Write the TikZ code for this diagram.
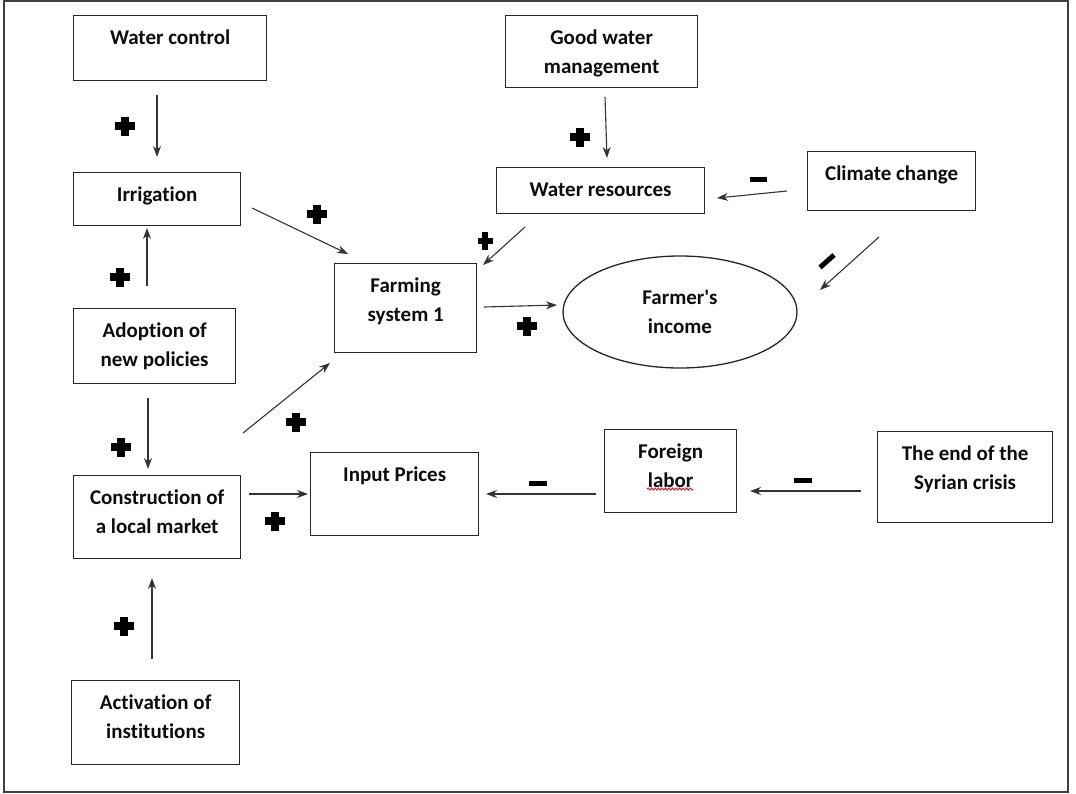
\documentclass[tikz,border=0pt]{standalone}
\usepackage{fontspec}
\setmainfont{Carlito}[Ligatures={TeXOff,NoCommon}]
\usetikzlibrary{arrows.meta,calc,decorations.pathmorphing,shapes.geometric}

% box content: fixed size, text hung from the top with the first baseline 28.5pt down
\newcommand{\boxlines}[3]{\begin{minipage}[t][#2][t]{#1}\centering\rule{0pt}{28.5pt}#3\end{minipage}}

\tikzset{
  x=1pt, y=-1pt,
  lbl/.style={font=\bfseries\fontsize{21}{29.5}\selectfont, text=black!95},
  box/.style={lbl, draw=black!85, line width=1.3pt, inner sep=0pt, anchor=north west},
  arr/.style={-{Stealth[length=11pt,width=8pt]}, line width=1.1pt, draw=black!80},
  plusmark/.pic={\fill[black] (-10,-3.7) rectangle (10,3.7);
                 \fill[black] (-3.7,-9.5) rectangle (3.7,9.5);},
  smallplus/.pic={\fill[black] (-7.5,-3) rectangle (7.5,3);
                  \fill[black] (-3,-9) rectangle (3,9);},
  minusmark/.style={line width=5pt, draw=black},
}

\begin{document}
\begin{tikzpicture}
\useasboundingbox (0,0) rectangle (1076,793);
\fill[white] (0,0) rectangle (1076,793);
\draw[line width=1.2pt, black!75] (4,1) rectangle (1068,792);

% boxes
\node[box] (wc)  at (73,15)  {\boxlines{193pt}{65pt}{Water control}};
\node[box] (irr) at (73,172) {\boxlines{167pt}{53pt}{Irrigation}};
\node[box] (adp) at (73,308) {\boxlines{162pt}{75pt}{Adoption of\\new policies}};
\node[box] (lm)  at (73,475) {\boxlines{167pt}{83pt}{Construction of\\a local market}};
\node[box] (act) at (71,680) {\boxlines{168pt}{84pt}{Activation of\\institutions}};
\node[box] (fs)  at (334,263) {\boxlines{142pt}{89pt}{Farming\\system 1}};
\node[box] (gwm) at (505,15) {\boxlines{192pt}{72pt}{Good water\\management}};
\node[box] (wr)  at (496,167) {\boxlines{208pt}{46pt}{Water resources}};
\node[box] (cc)  at (807,151) {\boxlines{168pt}{59pt}{Climate change}};
\node[box] (ip)  at (310,452) {\boxlines{168pt}{83pt}{Input Prices}};
\node[box] (fl)  at (604,429) {\boxlines{132pt}{83pt}{Foreign\\labor}};
\node[box] (sc)  at (877,431) {\boxlines{175pt}{91pt}{The end of the\\Syrian crisis}};
\node[lbl, draw=black!85, line width=1.3pt, ellipse, inner sep=0pt,
      minimum width=234pt, minimum height=112pt, align=center] (inc) at (680,312) {Farmer's\\income};

% spell-check squiggle under "labor"
\coordinate (sqa) at (647,489);
\coordinate (sqb) at (693,489);
\draw[red!85!black, line width=0.8pt, decorate,
      decoration={snake, amplitude=1.1pt, segment length=3.5pt}] (sqa) -- (sqb);

% connector end points
\coordinate (wc-out)  at (157,95);   \coordinate (irr-in1) at (157,157);
\coordinate (adp-up)  at (147,286);  \coordinate (irr-in2) at (147,228);
\coordinate (adp-dn)  at (148,398);  \coordinate (lm-in1)  at (148,469);
\coordinate (act-out) at (152,659);  \coordinate (lm-in2)  at (152,578);
\coordinate (irr-out) at (252,208);  \coordinate (fs-in1)  at (348,254);
\coordinate (lm-out1) at (243,433);  \coordinate (fs-in2)  at (330,363);
\coordinate (lm-out2) at (249,494);  \coordinate (ip-in1)  at (308,494);
\coordinate (fs-out)  at (484,307);  \coordinate (inc-in1) at (557,305);
\coordinate (gwm-out) at (605,97);   \coordinate (wr-in)   at (607,158);
\coordinate (wr-out)  at (525,227);  \coordinate (fs-in3)  at (483,265);
\coordinate (cc-out1) at (787,191);  \coordinate (wr-in2)  at (717,198);
\coordinate (cc-out2) at (879,237);  \coordinate (inc-in2) at (820,290);
\coordinate (fl-out)  at (596,494);  \coordinate (ip-in2)  at (486,494);
\coordinate (sc-out)  at (861,491);  \coordinate (fl-in)   at (750,491);

% connectors
\draw[arr] (wc-out)  -- (irr-in1);
\draw[arr] (adp-up)  -- (irr-in2);
\draw[arr] (adp-dn)  -- (lm-in1);
\draw[arr] (act-out) -- (lm-in2);
\draw[arr] (irr-out) -- (fs-in1);
\draw[arr] (lm-out1) -- (fs-in2);
\draw[arr] (lm-out2) -- (ip-in1);
\draw[arr] (fs-out)  -- (inc-in1);
\draw[arr] (gwm-out) -- (wr-in);
\draw[arr] (wr-out)  -- (fs-in3);
\draw[arr] (cc-out1) -- (wr-in2);
\draw[arr] (cc-out2) -- (inc-in2);
\draw[arr] (fl-out)  -- (ip-in2);
\draw[arr] (sc-out)  -- (fl-in);

% polarity signs
\pic at (125,126) {plusmark};
\pic at (120,277) {plusmark};
\pic at (121,447) {plusmark};
\pic at (124,626) {plusmark};
\pic at (317,214) {plusmark};
\pic at (296,422) {plusmark};
\pic at (275,521) {plusmark};
\pic at (527,326) {plusmark};
\pic at (580,137) {plusmark};
\pic at (485,241) {smallplus};
\draw[minusmark] (749.5,179) -- (766.5,179);
\draw[minusmark] (820,267.5) -- (834,255);
\draw[minusmark] (528.5,483) -- (546.5,483);
\draw[minusmark] (794,480) -- (812,480);
\end{tikzpicture}
\end{document}
